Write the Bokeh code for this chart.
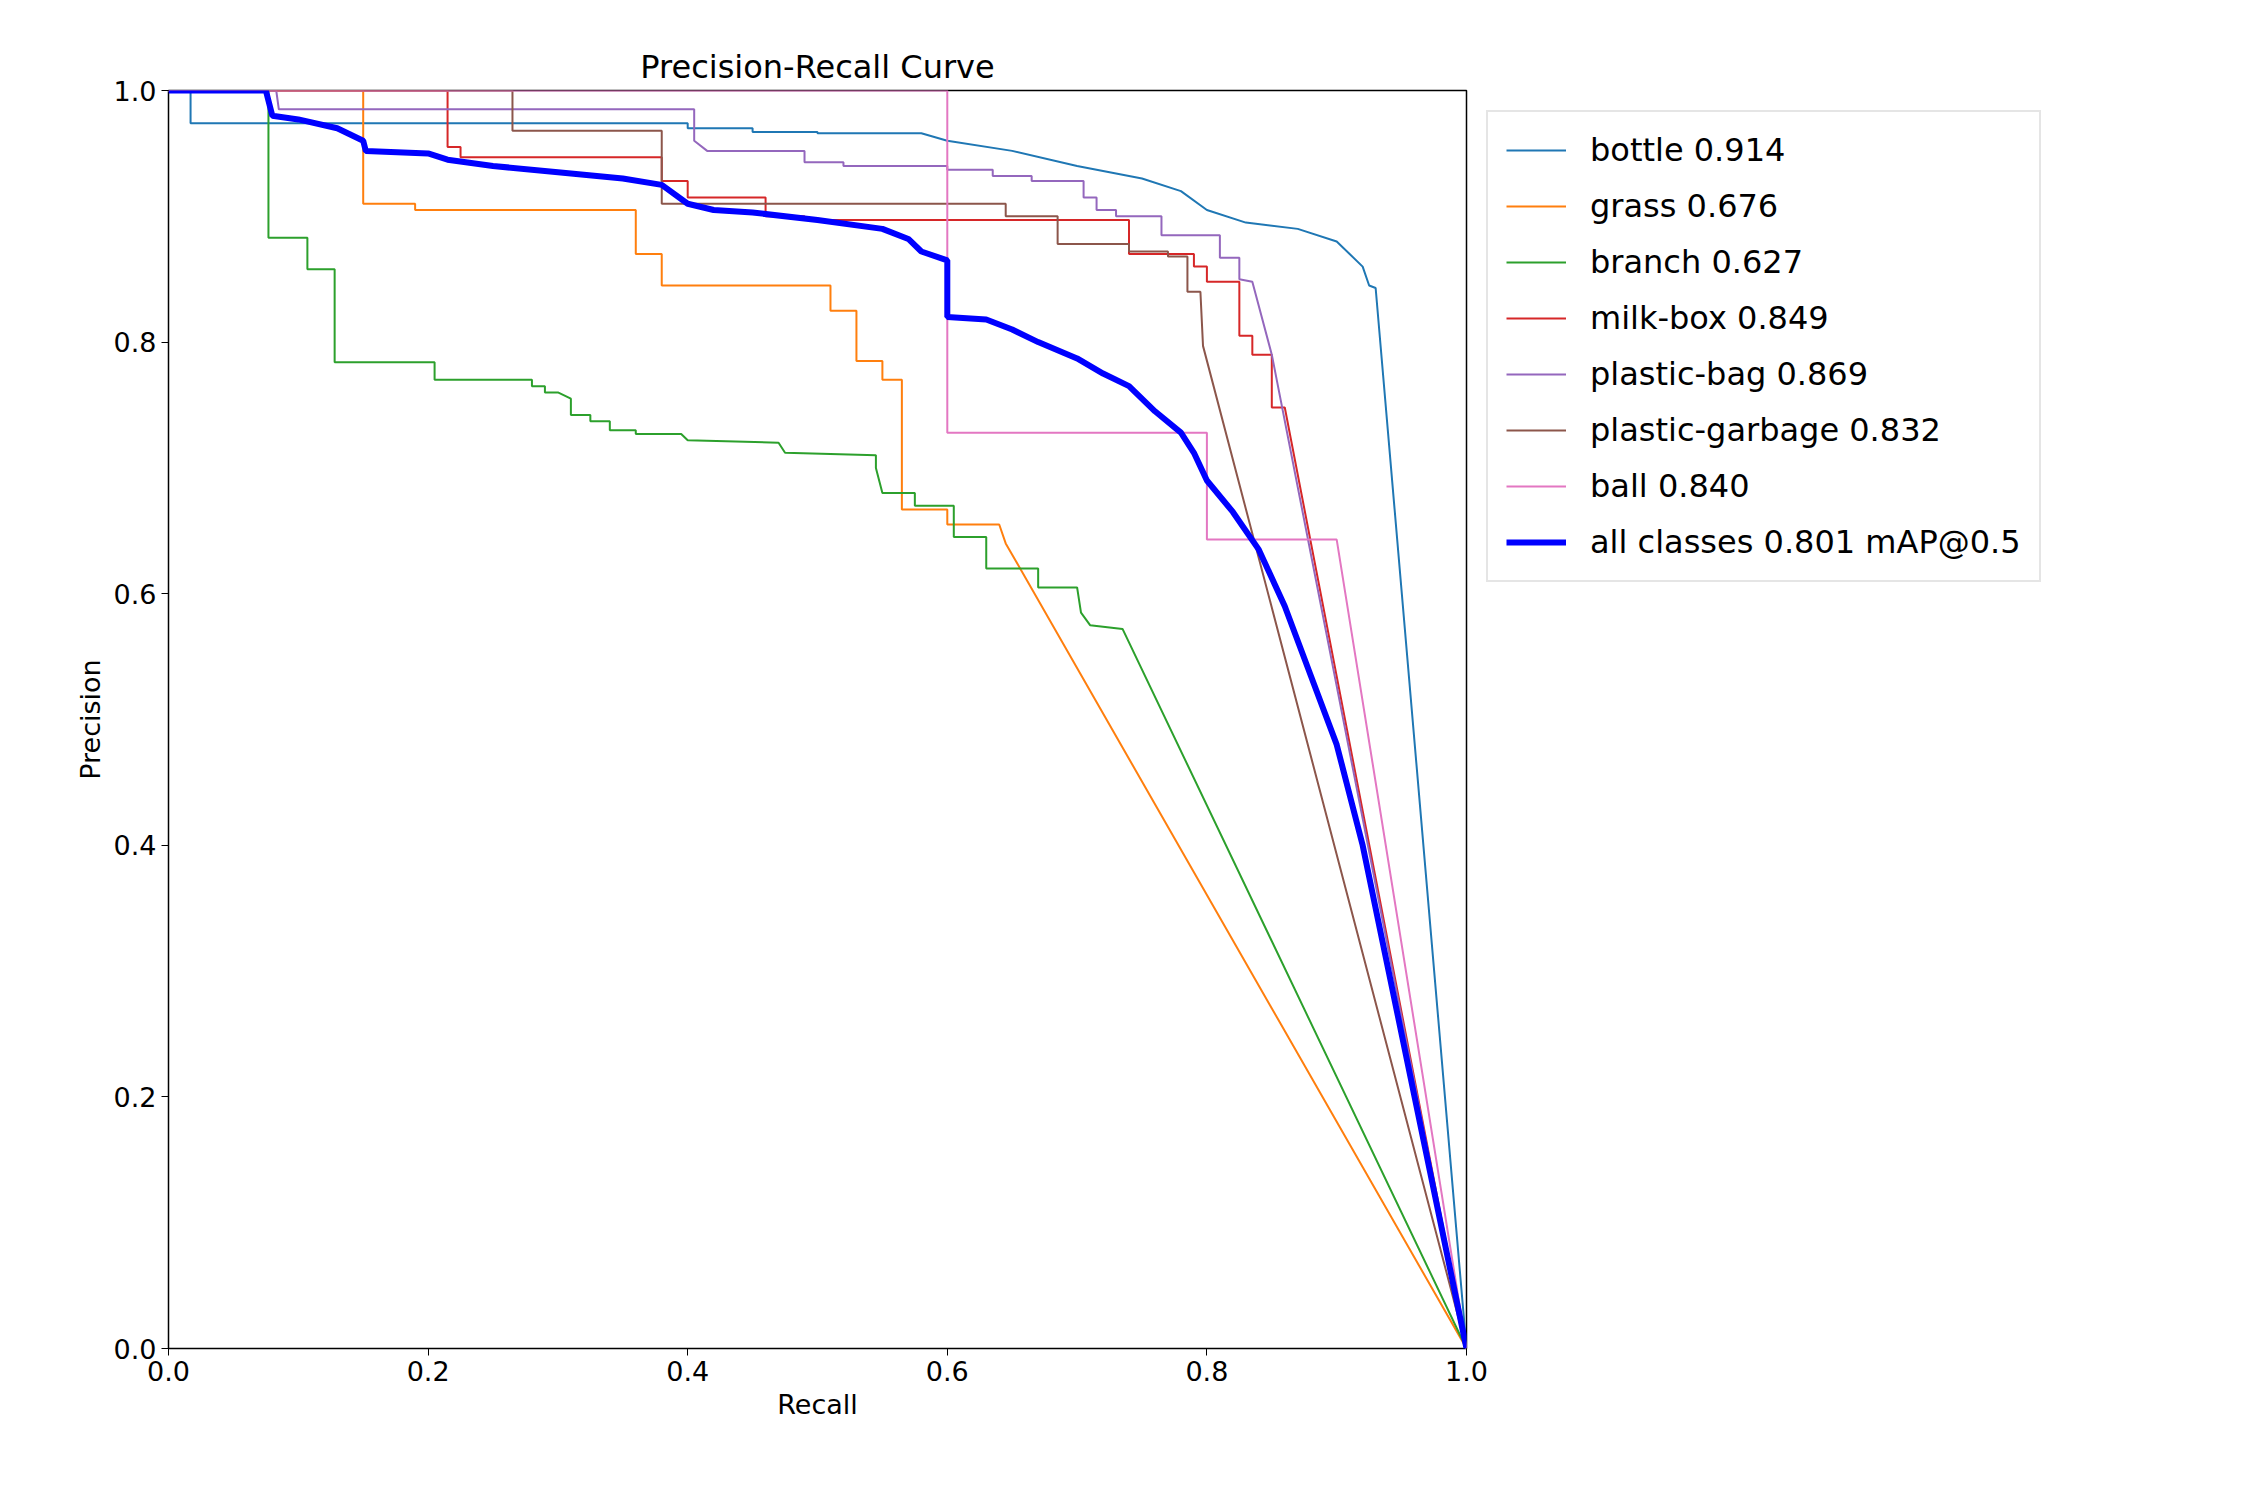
from bokeh.plotting import figure
from bokeh.models import Legend, LegendItem, FixedTicker, Range1d, CustomJSTickFormatter
from bokeh.embed import file_html
from bokeh.resources import INLINE

names = ["bottle 0.914", "grass 0.676", "branch 0.627", "milk-box 0.849",
         "plastic-bag 0.869", "plastic-garbage 0.832", "ball 0.840"]
colors = ["#1f77b4", "#ff7f0e", "#2ca02c", "#d62728", "#9467bd", "#8c564b", "#e377c2"]

bottle = [(0,1),(0.017,1),(0.017,0.974),(0.4,0.974),(0.4,0.97),(0.45,0.97),(0.45,0.967),(0.5,0.967),(0.5,0.966),(0.58,0.966),(0.6,0.96),(0.65,0.952),(0.7,0.94),(0.75,0.93),(0.78,0.92),(0.8,0.905),(0.83,0.895),(0.87,0.89),(0.9,0.88),(0.92,0.86),(0.925,0.845),(0.93,0.843),(1.0,0.0)]
grass = [(0,1),(0.15,1),(0.15,0.91),(0.19,0.91),(0.19,0.905),(0.36,0.905),(0.36,0.87),(0.38,0.87),(0.38,0.845),(0.51,0.845),(0.51,0.825),(0.53,0.825),(0.53,0.785),(0.55,0.785),(0.55,0.77),(0.565,0.77),(0.565,0.667),(0.6,0.667),(0.6,0.655),(0.64,0.655),(0.645,0.64),(1.0,0.0)]
branch = [(0,1),(0.077,1),(0.077,0.883),(0.107,0.883),(0.107,0.858),(0.128,0.858),(0.128,0.784),(0.205,0.784),(0.205,0.77),(0.28,0.77),(0.28,0.765),(0.29,0.765),(0.29,0.76),(0.3,0.76),(0.31,0.755),(0.31,0.742),(0.325,0.742),(0.325,0.737),(0.34,0.737),(0.34,0.73),(0.36,0.73),(0.36,0.727),(0.395,0.727),(0.4,0.722),(0.47,0.72),(0.475,0.712),(0.545,0.71),(0.545,0.7),(0.55,0.68),(0.575,0.68),(0.575,0.67),(0.605,0.67),(0.605,0.645),(0.63,0.645),(0.63,0.62),(0.67,0.62),(0.67,0.605),(0.7,0.605),(0.703,0.585),(0.71,0.575),(0.735,0.572),(1.0,0.0)]
milkbox = [(0,1),(0.215,1),(0.215,0.955),(0.225,0.955),(0.225,0.947),(0.38,0.947),(0.38,0.928),(0.4,0.928),(0.4,0.915),(0.46,0.915),(0.46,0.9),(0.49,0.9),(0.49,0.897),(0.74,0.897),(0.74,0.87),(0.79,0.87),(0.79,0.86),(0.8,0.86),(0.8,0.848),(0.825,0.848),(0.825,0.805),(0.835,0.805),(0.835,0.79),(0.85,0.79),(0.85,0.748),(0.86,0.748),(1.0,0.0)]
plasticbag = [(0,1),(0.083,1),(0.085,0.985),(0.405,0.985),(0.405,0.96),(0.415,0.952),(0.49,0.952),(0.49,0.943),(0.52,0.943),(0.52,0.94),(0.6,0.94),(0.6,0.937),(0.635,0.937),(0.635,0.932),(0.665,0.932),(0.665,0.928),(0.705,0.928),(0.705,0.915),(0.715,0.915),(0.715,0.905),(0.73,0.905),(0.73,0.9),(0.765,0.9),(0.765,0.885),(0.81,0.885),(0.81,0.867),(0.825,0.867),(0.825,0.85),(0.835,0.848),(0.85,0.79),(1.0,0.0)]
plasticgarbage = [(0,1),(0.265,1),(0.265,0.968),(0.38,0.968),(0.38,0.91),(0.645,0.91),(0.645,0.9),(0.685,0.9),(0.685,0.878),(0.74,0.878),(0.74,0.872),(0.77,0.872),(0.77,0.868),(0.785,0.868),(0.785,0.84),(0.795,0.84),(0.797,0.797),(1.0,0.0)]
ball = [(0,1),(0.6,1),(0.6,0.728),(0.8,0.728),(0.8,0.643),(0.9,0.643),(1.0,0.0)]
allclasses = [(0,1),(0.075,1),(0.08,0.98),(0.1,0.977),(0.13,0.97),(0.15,0.96),(0.152,0.952),(0.2,0.95),(0.215,0.945),(0.25,0.94),(0.3,0.935),(0.35,0.93),(0.38,0.925),(0.4,0.91),(0.42,0.905),(0.45,0.903),(0.5,0.897),(0.55,0.89),(0.57,0.882),(0.58,0.872),(0.6,0.865),(0.6,0.82),(0.63,0.818),(0.65,0.81),(0.67,0.8),(0.7,0.787),(0.72,0.775),(0.74,0.765),(0.76,0.745),(0.78,0.728),(0.79,0.712),(0.8,0.69),(0.82,0.665),(0.84,0.635),(0.86,0.59),(0.88,0.535),(0.9,0.48),(0.92,0.4),(0.94,0.3),(0.96,0.2),(0.98,0.1),(1.0,0.0)]
series = [bottle, grass, branch, milkbox, plasticbag, plasticgarbage, ball]
ticks = [0.0, 0.2, 0.4, 0.6, 0.8, 1.0]

p = figure(frame_width=1298, frame_height=1258, min_border_left=168, min_border_top=90,
           min_border_right=40, min_border_bottom=120,
           x_range=Range1d(0, 1), y_range=Range1d(0, 1),
           output_backend="svg", toolbar_location=None, title="Precision-Recall Curve")
p.title.text_font = "DejaVu Sans"; p.title.text_font_size = "32px"; p.title.text_font_style = "normal"
p.title.align = "center"; p.title.text_color = "black"
p.xgrid.visible = False; p.ygrid.visible = False
p.outline_line_color = "black"; p.outline_line_width = 1.5
fmt = CustomJSTickFormatter(code="return tick.toFixed(1);")
for ax in (p.xaxis, p.yaxis):
    ax.ticker = FixedTicker(ticks=ticks)
    ax.formatter = fmt
    ax.minor_tick_line_color = None
    ax.major_label_text_font = "DejaVu Sans"; ax.major_label_text_font_size = "27px"
    ax.major_label_text_color = "black"
    ax.axis_label_text_font = "DejaVu Sans"; ax.axis_label_text_font_size = "27px"
    ax.axis_label_text_font_style = "normal"; ax.axis_label_text_color = "black"
    ax.major_tick_out = 7; ax.major_tick_in = 0
    ax.major_tick_line_color = "black"
    ax.axis_line_color = None
p.xaxis.axis_label = "Recall"; p.yaxis.axis_label = "Precision"

items = []
for name, col, s in zip(names, colors, series):
    r = p.line([a for a, b in s], [b for a, b in s], color=col, line_width=2)
    items.append(LegendItem(label=name, renderers=[r]))
r = p.line([a for a, b in allclasses], [b for a, b in allclasses], color="blue", line_width=6)
items.append(LegendItem(label="all classes 0.801 mAP@0.5", renderers=[r]))

leg = Legend(items=items, location="top_left", label_text_font="DejaVu Sans",
             label_text_font_size="32px", label_text_color="black",
             glyph_width=60, label_height=40, spacing=16,
             padding=18, margin=20, border_line_color="#cccccc", border_line_width=2,
             label_standoff=24)
p.add_layout(leg, "right")

open("out.html", "w").write(file_html(p, INLINE))
